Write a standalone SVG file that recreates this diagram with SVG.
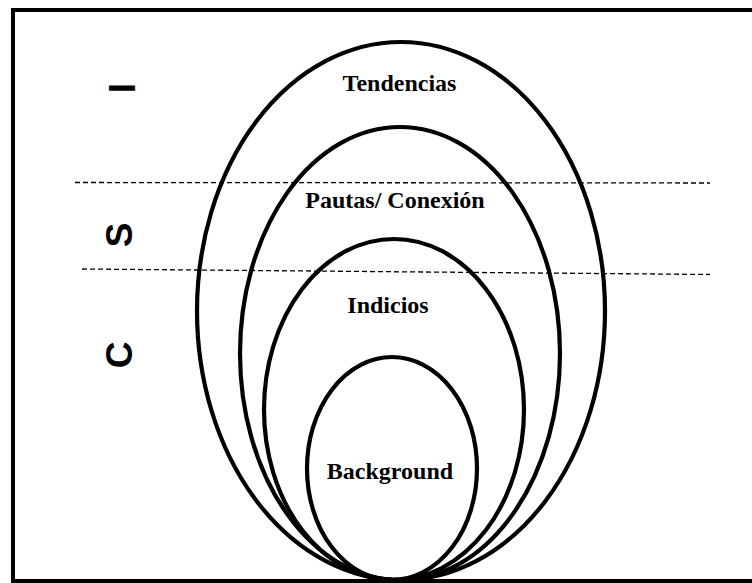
<svg xmlns="http://www.w3.org/2000/svg" width="752" height="583" viewBox="0 0 752 583">
<style>
.ov{fill:none;stroke:#000;stroke-width:4.2}
.lbl{font-family:"Liberation Serif","Times New Roman",serif;font-weight:bold;font-size:24px;fill:#000;text-anchor:middle}
.side{font-family:"Liberation Sans",Arial,sans-serif;font-weight:bold;font-size:37px;fill:#000;text-anchor:middle}
.dash{stroke:#000;stroke-width:1.3;stroke-dasharray:5,3;fill:none}
</style>
<rect x="0" y="0" width="752" height="583" fill="#fff"/>
<rect id="frame" x="13" y="10" width="745" height="571" fill="none" stroke="#000" stroke-width="4"/>
<g id="connectors">
<line class="dash" x1="75" y1="182.5" x2="710" y2="183"/>
<line class="dash" x1="82" y1="269" x2="710" y2="274.5"/>
</g>
<g id="tendencias">
<ellipse class="ov" cx="401" cy="311" rx="204" ry="269"/>
<text class="lbl" x="399.5" y="91">Tendencias</text>
</g>
<g id="pautas">
<ellipse class="ov" cx="400" cy="353.5" rx="160" ry="226.5"/>
<text class="lbl" x="395" y="208">Pautas/ Conexión</text>
</g>
<g id="indicios">
<ellipse class="ov" cx="394" cy="409.5" rx="130" ry="170.5"/>
<text class="lbl" x="388" y="313">Indicios</text>
</g>
<g id="background">
<ellipse class="ov" cx="392" cy="468.5" rx="85" ry="111.5"/>
<text class="lbl" x="390" y="479">Background</text>
</g>
<g id="side-labels">
<text class="side" transform="translate(135,88) rotate(-90)">I</text>
<text class="side" transform="translate(132,235) rotate(-90)">S</text>
<text class="side" transform="translate(132,355) rotate(-90)">C</text>
</g>
</svg>
